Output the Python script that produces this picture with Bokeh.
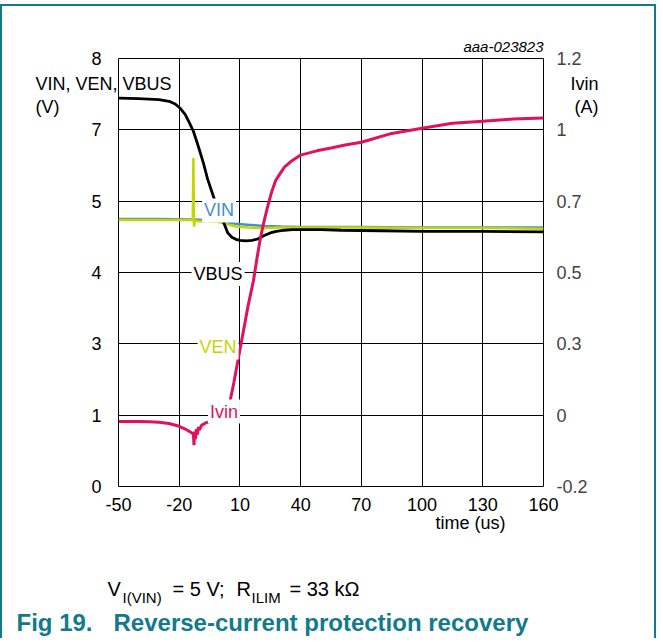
from bokeh.plotting import figure
from bokeh.models import Range1d, LinearAxis, FixedTicker, Label
from bokeh.embed import file_html
from bokeh.resources import INLINE

# ---------------- data ----------------
t_vbus = [-50, -40, -30, -25, -22, -19.5, -17, -15, -13, -10.5, -8, -6, -3, -0.5, 1.5,
          4, 6, 8, 10, 13, 16, 19, 22, 25, 28, 32, 36, 40, 50, 60, 80, 100, 130, 160]
vbus = [7.26, 7.25, 7.23, 7.20, 7.15, 7.07, 6.95, 6.80, 6.64, 6.35, 6.04, 5.75, 5.41, 5.13, 4.98,
        4.74, 4.66, 4.62, 4.60, 4.59, 4.60, 4.63, 4.69, 4.74, 4.77, 4.79, 4.80, 4.80, 4.80, 4.79,
        4.78, 4.77, 4.77, 4.76]

t_vin = [-50, -30, -13, -8, -2, 3, 8, 15, 22, 30, 40, 70, 100, 130, 160]
vin = [5.00, 5.00, 4.99, 4.98, 4.97, 4.94, 4.91, 4.89, 4.87, 4.86, 4.85, 4.85, 4.84, 4.84, 4.84]

t_ven = [-50, -30, -13.3, -13.0, -12.7, -12.3, -10, -5, -1, 1, 4, 8, 14, 22, 30, 40, 70,
         100, 130, 160]
ven = [4.98, 4.98, 4.98, 6.14, 4.86, 4.97, 4.96, 4.96, 4.95, 4.93, 4.90, 4.86, 4.84, 4.83,
       4.84, 4.84, 4.84, 4.83, 4.83, 4.82]

t_ivin = [-50, -40, -35, -30, -25, -20, -17, -14.5, -13, -12.7, -12.4, -12, -11.5, -11, -10.5,
          -10, -9, -7, -4, -1, 3, 5, 7, 9.3, 11.8, 14, 16.7, 18.5, 20.2, 22, 23.6, 25.5, 27.6,
          30, 32, 35, 40, 48, 55, 62, 70, 85, 100, 115, 130, 145, 160]
ivin = [0.013, 0.013, 0.012, 0.010, 0.006, -0.003, -0.012, -0.022, -0.028, -0.065, -0.020,
        -0.045, -0.012, -0.030, -0.005, -0.015, 0.000, 0.008, 0.013, 0.016, 0.040, 0.075, 0.140,
        0.222, 0.311, 0.390, 0.474, 0.550, 0.615, 0.670, 0.713, 0.760, 0.800, 0.825, 0.845,
        0.862, 0.884, 0.898, 0.907, 0.917, 0.926, 0.955, 0.972, 0.988, 0.995, 1.002, 1.005]

x_ticks = [-50, -20, 10, 40, 70, 100, 130, 160]
x_tick_labels = ["-50", "-20", "10", "40", "70", "100", "130", "160"]
v_ticks = [i * 8 / 6 for i in range(7)]
v_tick_labels = ["0", "1", "3", "4", "5", "7", "8"]
a_ticks = [-0.2 + i * 1.4 / 6 for i in range(7)]
a_tick_labels = ["-0.2", "0", "0.3", "0.5", "0.7", "1", "1.2"]

# ---------------- styles ----------------
TEAL = "#137a8c"
RED = "#e3105c"
GREEN = "#c3d600"
BLUE = "#4090d0"
FONT = "Liberation Sans"

p = figure(width=656, height=634, output_backend="svg", toolbar_location=None,
           x_range=Range1d(-50, 160), y_range=Range1d(0, 8),
           min_border_left=116, min_border_right=115, min_border_top=52,
           min_border_bottom=154)
p.styles = {"margin-top": "4px", "border-top": "2px solid " + TEAL,
            "border-left": "2px solid " + TEAL, "border-right": "2px solid " + TEAL}
p.outline_line_color = "black"
p.outline_line_width = 1
p.background_fill_color = "white"
p.border_fill_color = "white"

p.extra_y_ranges = {"ivin": Range1d(-0.2, 1.2)}

for ax in (p.xaxis[0], p.yaxis[0]):
    ax.axis_line_color = None
    ax.major_tick_line_color = None
    ax.minor_tick_line_color = None
    ax.major_label_text_font = FONT
    ax.major_label_text_font_size = "18px"
    ax.major_label_text_color = "black"

p.xaxis.ticker = FixedTicker(ticks=x_ticks)
p.xaxis.major_label_overrides = {t: l for t, l in zip(x_ticks, x_tick_labels)}
p.xaxis.major_label_standoff = 5
p.yaxis.ticker = FixedTicker(ticks=v_ticks)
p.yaxis.major_label_overrides = {t: l for t, l in zip(v_ticks, v_tick_labels)}
p.yaxis.major_label_standoff = 11

raxis = LinearAxis(y_range_name="ivin", ticker=FixedTicker(ticks=a_ticks),
                   major_label_overrides={t: l for t, l in zip(a_ticks, a_tick_labels)})
raxis.axis_line_color = None
raxis.major_tick_line_color = None
raxis.minor_tick_line_color = None
raxis.major_label_text_font = FONT
raxis.major_label_text_font_size = "18px"
raxis.major_label_standoff = 7
p.add_layout(raxis, "right")

p.xgrid.grid_line_color = "black"
p.ygrid.grid_line_color = "black"
p.xgrid.grid_line_width = 1
p.ygrid.grid_line_width = 1

# ---------------- traces ----------------
p.line(t_vin, vin, line_color=BLUE, line_width=2.5)
p.line(t_ven, ven, line_color=GREEN, line_width=2.5)
p.line(t_vbus, vbus, line_color="black", line_width=2.8)
p.line(t_ivin, ivin, line_color=RED, line_width=3, y_range_name="ivin")


def lab(fig, x, y, text, color="black", size="18px", align="left", baseline="middle",
        style="normal", bg=None):
    kw = dict(x=x, y=y, text=text, text_color=color, text_font=FONT, text_font_size=size,
              text_align=align, text_baseline=baseline, text_font_style=style)
    if bg:
        kw.update(background_fill_color=bg, padding=2)
    fig.add_layout(Label(**kw))


# in-plot trace labels (data coordinates)
lab(p, -0.3, 5.16, "VIN", BLUE, align="center", bg="white")
lab(p, -0.8, 3.97, "VBUS", "black", align="center", bg="white")
lab(p, -0.8, 2.60, "VEN", GREEN, align="center", bg="white")
lab(p, 2.1, 1.40, "Ivin", RED, align="center", bg="white")

# transparent overlay page for texts that lie outside the plot frame (pixel coords)
OW, OH = 660, 636
ov = figure(width=OW, height=OH, output_backend="svg", toolbar_location=None,
            x_range=Range1d(0, OW), y_range=Range1d(0, OH),
            x_axis_type=None, y_axis_type=None, min_border=0)
ov.outline_line_color = None
ov.background_fill_color = None
ov.border_fill_color = None
ov.styles = {"position": "absolute", "top": "0px", "left": "0px"}

lab(ov, 35, OH - 83, "VIN, VEN, VBUS")
lab(ov, 35, OH - 106, "(V)")
lab(ov, 598, OH - 83, "Ivin", align="right")
lab(ov, 598, OH - 106, "(A)", align="right")
lab(ov, 543, OH - 46, "aaa-023823", size="15px", align="right", style="italic")
lab(ov, 470, OH - 522, "time (us)", align="center")

lab(ov, 107, OH - 588, "V", size="20px", baseline="alphabetic")
lab(ov, 122, OH - 597, "I(VIN)", size="15px", baseline="alphabetic")
lab(ov, 172, OH - 588, "= 5 V;", size="20px", baseline="alphabetic")
lab(ov, 236, OH - 588, "R", size="20px", baseline="alphabetic")
lab(ov, 251, OH - 597, "ILIM", size="15px", baseline="alphabetic")
lab(ov, 289, OH - 588, "= 33 k\u03a9", size="20px", baseline="alphabetic")

lab(ov, 16, OH - 622, "Fig 19.", TEAL, size="24px", style="bold")
lab(ov, 113, OH - 622, "Reverse-current protection recovery", TEAL, size="24px",
    style="bold")

open("out.html", "w").write(file_html([p, ov], INLINE))
